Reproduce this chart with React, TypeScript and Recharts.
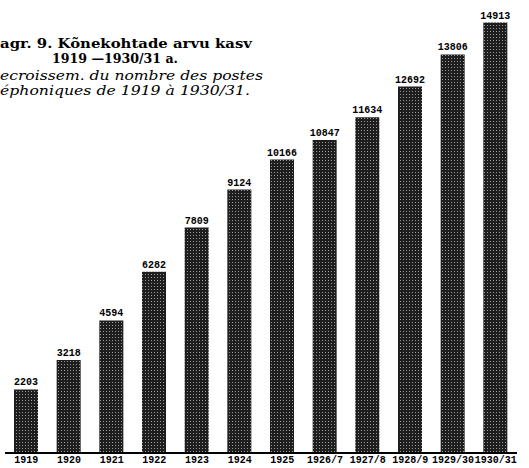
import { Bar, BarChart, LabelList, XAxis, YAxis } from "recharts";

const years = [
  "1919",
  "1920",
  "1921",
  "1922",
  "1923",
  "1924",
  "1925",
  "1926/7",
  "1927/8",
  "1928/9",
  "1929/30",
  "1930/31",
];
const posts = [
  2203, 3218, 4594, 6282, 7809, 9124, 10166, 10847, 11634, 12692, 13806, 14913,
];

const titleEt = "agr. 9. Kõnekohtade arvu kasv";
const titleYears = "1919 —1930/31 a.";
const titleFr1 = "ecroissem. du nombre des postes";
const titleFr2 = "éphoniques de 1919 à 1930/31.";

const data = years.map((y, i) => ({ year: y, value: posts[i] }));

const mono = "'Liberation Mono', 'DejaVu Sans Mono', monospace";
const serif = "'DejaVu Serif', 'Liberation Serif', serif";

function App() {
  return (
    <div
      style={{
        position: "absolute",
        left: 0,
        top: 0,
        width: 529,
        height: 468,
        background: "#fff",
      }}
    >
      <BarChart
        width={529}
        height={468}
        data={data}
        margin={{ top: 20, right: 12, left: 5, bottom: 0 }}
      >
        <defs>
          <pattern
            id="halftone"
            width="3"
            height="3"
            patternUnits="userSpaceOnUse"
          >
            <rect width="3" height="3" fill="#1e1e1e" />
            <rect x="1" y="1" width="1" height="1" fill="#9a9a9a" />
          </pattern>
        </defs>
        <XAxis
          dataKey="year"
          height={15}
          tickSize={0}
          tickMargin={3}
          interval={0}
          axisLine={{ stroke: "#000", strokeWidth: 2 }}
          tickLine={false}
          tick={{
            fill: "#000",
            fontSize: 10,
            fontWeight: 700,
            fontFamily: mono,
          }}
        />
        <YAxis hide domain={[0, 15000]} />
        <Bar
          dataKey="value"
          barSize={24}
          fill="url(#halftone)"
          isAnimationActive={false}
        >
          <LabelList
            dataKey="value"
            position="top"
            offset={4}
            fill="#000"
            fontSize={10}
            fontWeight={700}
            fontFamily={mono}
          />
        </Bar>
      </BarChart>
      <svg
        width={529}
        height={468}
        style={{ position: "absolute", left: 0, top: 0, pointerEvents: "none" }}
      >
        <text
          x={0}
          y={48}
          fontFamily={serif}
          fontWeight={700}
          fontSize={13}
          textLength={252}
          lengthAdjust="spacingAndGlyphs"
        >
          {titleEt}
        </text>
        <text
          x={52}
          y={63}
          fontFamily={serif}
          fontWeight={700}
          fontSize={13}
          textLength={126}
          lengthAdjust="spacingAndGlyphs"
        >
          {titleYears}
        </text>
        <text
          x={0}
          y={80}
          fontFamily={serif}
          fontStyle="italic"
          fontSize={13}
          textLength={263}
          lengthAdjust="spacingAndGlyphs"
        >
          {titleFr1}
        </text>
        <text
          x={0}
          y={95}
          fontFamily={serif}
          fontStyle="italic"
          fontSize={13}
          textLength={250}
          lengthAdjust="spacingAndGlyphs"
        >
          {titleFr2}
        </text>
      </svg>
    </div>
  );
}

export default App;
